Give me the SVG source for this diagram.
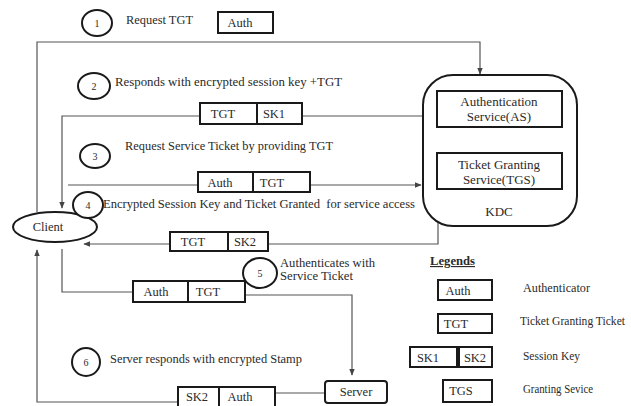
<svg xmlns="http://www.w3.org/2000/svg" width="631" height="406" viewBox="0 0 631 406" font-family="'Liberation Serif', 'DejaVu Serif', serif">
  <defs>
    <marker id="arr" viewBox="0 0 10 10" refX="9" refY="5" markerWidth="7" markerHeight="7" orient="auto" markerUnits="userSpaceOnUse">
      <path d="M0,1 L10,5 L0,9 z" fill="#444"/>
    </marker>
    <style>
      text { font-family: 'Liberation Serif', 'DejaVu Serif', serif; fill: #2a2a2a; }
      .lbl { font-size: 12px; }
      .tok { font-size: 12.5px; text-anchor: middle; }
      .num { font-size: 10px; text-anchor: middle; }
      .box { fill: #fff; stroke: #1a1a1a; stroke-width: 2; }
      .step { fill: #fff; stroke: #1a1a1a; stroke-width: 2; }
      .wire { fill: none; stroke: #555; stroke-width: 1.2; }
      .svc { font-size: 13px; text-anchor: middle; }
      .leg { font-size: 11.5px; }
    </style>
  </defs>
  <rect width="631" height="406" fill="#fff"/>

  <!-- connectors -->
  <g id="connectors">
    <!-- 1: client to AS -->
    <path class="wire" d="M37,212 V42 H480 V74" marker-end="url(#arr)"/>
    <!-- 2: AS back to client -->
    <path class="wire" d="M423,116 H62 V208" marker-end="url(#arr)"/>
    <!-- 3: client to TGS -->
    <path class="wire" d="M68,185 H421" marker-end="url(#arr)"/>
    <!-- 4: TGS back to client -->
    <path class="wire" d="M438,189 V244 H84" marker-end="url(#arr)"/>
    <!-- 5: client to server -->
    <path class="wire" d="M62,249 V292 H133"/>
    <path class="wire" d="M245,295 H352 V375" marker-end="url(#arr)"/>
    <!-- 6: server back to client -->
    <path class="wire" d="M325,393 H275"/>
    <path class="wire" d="M178,402 H37 V250" marker-end="url(#arr)"/>
  </g>

  <!-- KDC -->
  <g id="kdc">
    <rect class="box" x="423" y="75" width="154" height="151" rx="30" ry="30" fill="none"/>
    <text class="svc" x="499" y="216">KDC</text>
  </g>
  <g id="as">
    <rect class="box" x="437" y="91" width="125" height="36"/>
    <text class="svc" x="499" y="106">Authentication</text>
    <text class="svc" x="499" y="121">Service(AS)</text>
  </g>
  <g id="tgs">
    <rect class="box" x="437" y="153" width="125" height="36"/>
    <text class="svc" x="499" y="169">Ticket Granting</text>
    <text class="svc" x="499" y="184">Service(TGS)</text>
  </g>

  <!-- Client -->
  <g id="client">
    <ellipse class="step" cx="55" cy="227" rx="42" ry="15"/>
    <text class="tok" x="48" y="231">Client</text>
  </g>

  <!-- Server -->
  <g id="server">
    <rect class="box" x="325" y="381" width="62" height="22" rx="3"/>
    <text class="tok" x="356" y="396">Server</text>
  </g>

  <!-- Step 1 -->
  <g id="step1">
    <ellipse class="step" cx="97" cy="23" rx="15" ry="13"/>
    <text class="num" x="97" y="27">1</text>
    <text class="lbl" x="126" y="24" textLength="67" lengthAdjust="spacingAndGlyphs">Request TGT</text>
    <rect class="box" x="218" y="12" width="55" height="21"/>
    <text class="tok" x="240" y="27">Auth</text>
  </g>

  <!-- Step 2 -->
  <g id="step2">
    <ellipse class="step" cx="94" cy="86" rx="16" ry="13"/>
    <text class="num" x="94" y="90">2</text>
    <text class="lbl" x="115" y="86" textLength="227" lengthAdjust="spacingAndGlyphs">Responds with encrypted session key +TGT</text>
    <rect class="box" x="200" y="103" width="57" height="21"/>
    <rect class="box" x="257" y="103" width="45" height="21"/>
    <text class="tok" x="223" y="118">TGT</text>
    <text class="tok" x="274" y="118">SK1</text>
  </g>

  <!-- Step 3 -->
  <g id="step3">
    <ellipse class="step" cx="95" cy="156" rx="15" ry="12"/>
    <text class="num" x="95" y="160">3</text>
    <text class="lbl" x="125" y="150" textLength="208" lengthAdjust="spacingAndGlyphs">Request Service Ticket by providing TGT</text>
    <rect class="box" x="198" y="172" width="55" height="20"/>
    <rect class="box" x="253" y="172" width="57" height="20"/>
    <text class="tok" x="220" y="187">Auth</text>
    <text class="tok" x="272" y="187">TGT</text>
  </g>

  <!-- Step 4 -->
  <g id="step4">
    <ellipse class="step" cx="88" cy="205" rx="15" ry="13"/>
    <text class="num" x="88" y="209">4</text>
    <text class="lbl" x="103" y="208" xml:space="preserve" textLength="312" lengthAdjust="spacingAndGlyphs">Encrypted Session Key and Ticket Granted  for service access</text>
    <rect class="box" x="170" y="232" width="58" height="19"/>
    <rect class="box" x="228" y="232" width="40" height="19"/>
    <text class="tok" x="193" y="246">TGT</text>
    <text class="tok" x="245" y="246">SK2</text>
  </g>

  <!-- Step 5 -->
  <g id="step5">
    <rect class="box" x="133" y="281" width="55" height="21"/>
    <rect class="box" x="188" y="281" width="57" height="21"/>
    <text class="tok" x="156" y="296">Auth</text>
    <text class="tok" x="208" y="296">TGT</text>
    <ellipse class="step" cx="260" cy="273" rx="17" ry="15"/>
    <text class="num" x="260" y="277">5</text>
    <text class="lbl" x="280" y="267" textLength="95" lengthAdjust="spacingAndGlyphs">Authenticates with</text>
    <text class="lbl" x="280" y="280" textLength="73" lengthAdjust="spacingAndGlyphs">Service Ticket</text>
  </g>

  <!-- Step 6 -->
  <g id="step6">
    <ellipse class="step" cx="86" cy="362" rx="14" ry="14"/>
    <text class="num" x="86" y="366">6</text>
    <text class="lbl" x="110" y="363" textLength="192" lengthAdjust="spacingAndGlyphs">Server responds with encrypted Stamp</text>
    <rect class="box" x="178" y="387" width="41" height="20"/>
    <rect class="box" x="219" y="387" width="56" height="20"/>
    <text class="tok" x="197" y="401">SK2</text>
    <text class="tok" x="240" y="401">Auth</text>
  </g>

  <!-- Legend -->
  <g id="legend">
    <text x="430" y="265" font-size="11.5" font-weight="bold" text-decoration="underline" textLength="45" lengthAdjust="spacingAndGlyphs">Legends</text>
    <rect class="box" x="438" y="280" width="54" height="20"/>
    <text class="tok" x="458" y="295">Auth</text>
    <text class="leg" x="523" y="292" textLength="67" lengthAdjust="spacingAndGlyphs">Authenticator</text>
    <rect class="box" x="438" y="314" width="54" height="19"/>
    <text class="tok" x="456" y="328">TGT</text>
    <text class="leg" x="520" y="325" textLength="105" lengthAdjust="spacingAndGlyphs">Ticket Granting Ticket</text>
    <rect class="box" x="410" y="347" width="47" height="20"/>
    <rect class="box" x="459" y="347" width="33" height="20"/>
    <text class="tok" x="428" y="362">SK1</text>
    <text class="tok" x="475" y="362">SK2</text>
    <text class="leg" x="523" y="360" textLength="57" lengthAdjust="spacingAndGlyphs">Session Key</text>
    <rect class="box" x="443" y="380" width="49" height="22"/>
    <text class="tok" x="461" y="395">TGS</text>
    <text class="leg" x="523" y="393" textLength="70" lengthAdjust="spacingAndGlyphs">Granting Sevice</text>
  </g>
</svg>
